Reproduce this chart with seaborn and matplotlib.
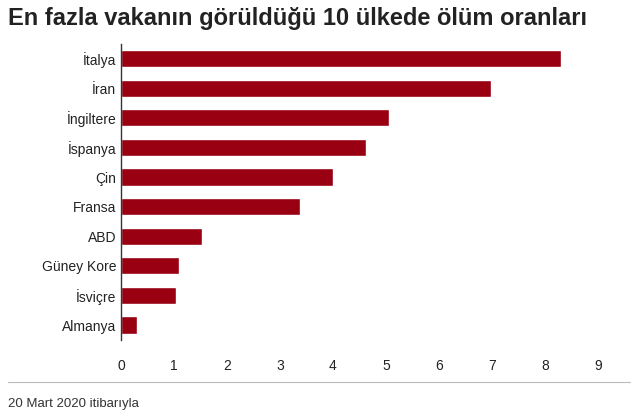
import matplotlib
matplotlib.use("Agg")
import matplotlib.pyplot as plt
import seaborn as sns
import pandas as pd

countries = ["İtalya", "İran", "İngiltere", "İspanya", "Çin", "Fransa", "ABD", "Güney Kore", "İsviçre", "Almanya"]
rates = [8.3, 6.98, 5.06, 4.62, 4.0, 3.38, 1.53, 1.09, 1.04, 0.30]
xticks = [0, 1, 2, 3, 4, 5, 6, 7, 8, 9]

sns.set_theme(style="white")
plt.rcParams['font.family'] = ['Liberation Sans', 'DejaVu Sans']

df = pd.DataFrame({"country": countries, "rate": rates})
fig = plt.figure(figsize=(6.4, 4.17), dpi=100)
ax = fig.add_axes([0.189, 0.185, 0.745, 0.71])
sns.barplot(data=df, x="rate", y="country", color="#990012", saturation=1, width=0.58, ax=ax)
ax.set_xlim(0, 9)
ax.set_xticks(xticks)
ax.set_xlabel("")
ax.set_ylabel("")
for s in ["top", "right", "bottom"]:
    ax.spines[s].set_visible(False)
ax.spines["left"].set_color("#333333")
ax.spines["left"].set_linewidth(1)
ax.tick_params(axis="both", length=0, labelsize=10, colors="#222222")
ax.tick_params(axis="x", pad=14)
fig.text(0.012, 0.94, "En fazla vakanın görüldüğü 10 ülkede ölüm oranları", fontsize=17, fontweight="bold", color="#222222")
fig.add_artist(plt.Line2D([0.012, 0.985], [0.083, 0.083], color="#bbbbbb", lw=0.8))
fig.text(0.012, 0.025, "20 Mart 2020 itibarıyla", fontsize=9.5, color="#333333")
fig.savefig("out.png", dpi=100)
